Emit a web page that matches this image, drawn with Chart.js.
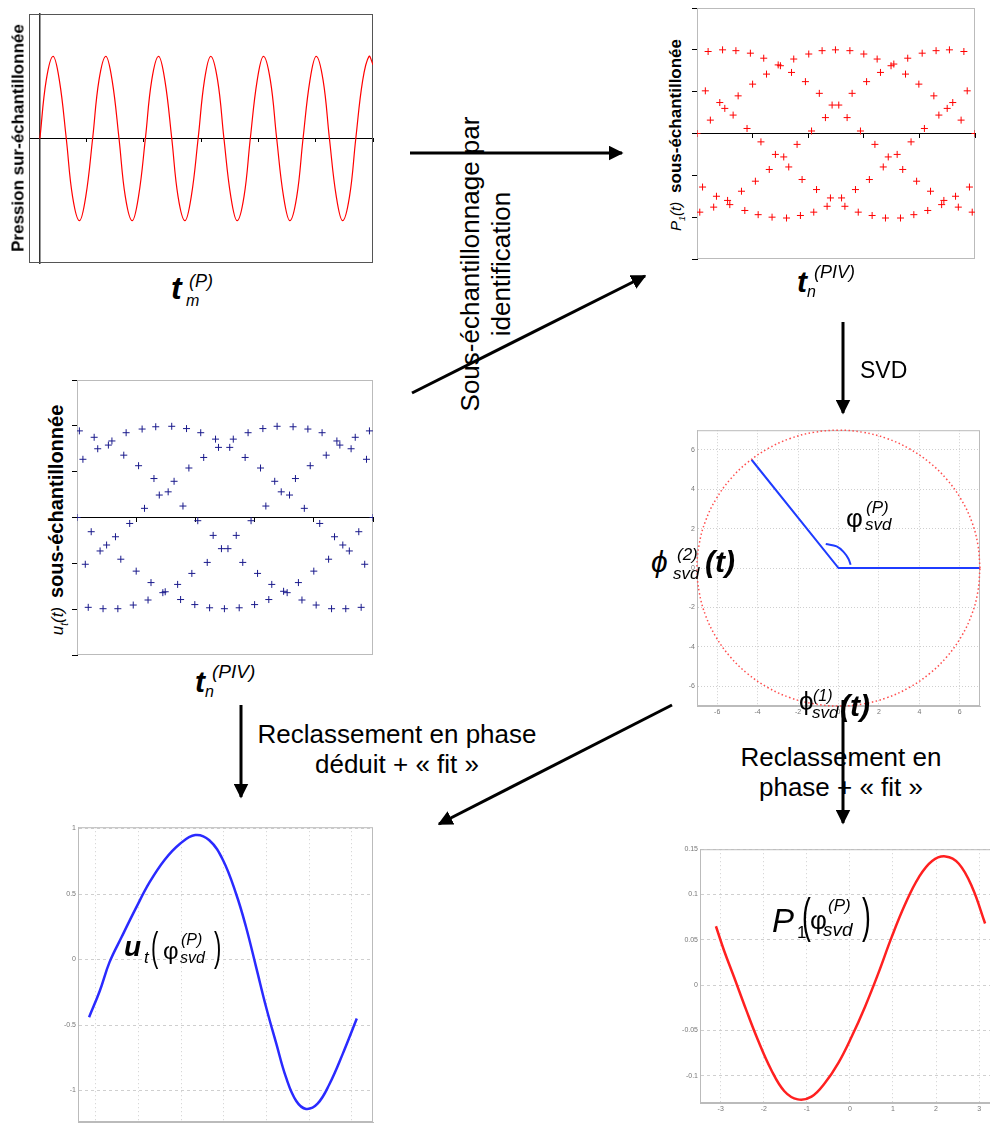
<!DOCTYPE html>
<html>
<head>
<meta charset="utf-8">
<title>Sous-échantillonnage et SVD</title>
<script src="https://cdn.jsdelivr.net/npm/chart.js@4.4.1/dist/chart.umd.min.js"></script>
<style>
  html, body { margin: 0; padding: 0; }
  body { width: 990px; height: 1124px; overflow: hidden; position: relative; background: #fff;
         font-family: "Liberation Sans", Arial, "DejaVu Sans", sans-serif; color: #000; }
  canvas { position: absolute; }
  svg.arrows { position: absolute; left: 0; top: 0; }
  .t { position: absolute; line-height: 1; white-space: nowrap; }
  .vt { position: absolute; white-space: nowrap; line-height: 1; transform: translate(-50%, -50%) rotate(-90deg); }
  .i { font-style: italic; }
  .bi { font-style: italic; font-weight: bold; }
  .par { transform: scaleX(0.55); transform-origin: left top; }
</style>
</head>
<body>

<canvas id="pression" width="356" height="261" style="left:23px;top:8px"></canvas>
<canvas id="p1Sub" width="290" height="263" style="left:691px;top:2px"></canvas>
<canvas id="utSub" width="308" height="287" style="left:71px;top:374px"></canvas>
<canvas id="svd" width="303" height="296" style="left:681px;top:424px"></canvas>
<canvas id="utFit" width="321" height="315" style="left:56px;top:821px"></canvas>
<canvas id="p1Fit" width="320" height="274" style="left:676px;top:843px"></canvas>

<!-- axis titles -->
<div class="vt" style="left:18px;top:138px;font-size:17px;font-weight:bold">Pression sur-échantillonnée</div>
<div class="vt" style="left:677px;top:135px"><span class="i" style="font-size:15px">P<sub style="font-size:9px">1</sub>(t)</span>&nbsp; <b style="font-size:17px">sous-échantillonée</b></div>
<div class="vt" style="left:58px;top:520px"><span class="i" style="font-size:17px">u<sub style="font-size:10px">t</sub>(t)</span>&nbsp; <b style="font-size:20px">sous-échantillonnée</b></div>

<!-- t_m^(P) -->
<div class="t bi" style="left:171px;top:272px;font-size:32px">t</div>
<div class="t i" style="left:189px;top:272px;font-size:18px">(P)</div>
<div class="t i" style="left:186px;top:293px;font-size:16px">m</div>

<!-- t_n^(PIV) right -->
<div class="t bi" style="left:797px;top:267px;font-size:30px">t</div>
<div class="t i" style="left:814px;top:263px;font-size:18px">(PIV)</div>
<div class="t i" style="left:807px;top:284px;font-size:16px">n</div>

<!-- t_n^(PIV) left -->
<div class="t bi" style="left:195px;top:667px;font-size:30px">t</div>
<div class="t i" style="left:212px;top:662px;font-size:19px">(PIV)</div>
<div class="t i" style="left:205px;top:684px;font-size:16px">n</div>

<!-- flow texts -->
<div class="vt" style="left:486px;top:264px;font-size:26px;line-height:31px;text-align:center">Sous-échantillonnage par<br>identification</div>
<div class="t" style="left:860px;top:359px;font-size:23px">SVD</div>
<div class="t" style="left:397px;top:719px;font-size:26px;transform:translateX(-50%);text-align:center;line-height:30px">Reclassement en phase<br>déduit + « fit »</div>
<div class="t" style="left:841px;top:742px;font-size:26px;transform:translateX(-50%);text-align:center;line-height:30px">Reclassement en<br>phase + « fit »</div>

<!-- labels in SVD plot -->
<div class="t" style="left:846px;top:505px;font-size:26px">φ</div>
<div class="t i" style="left:866px;top:499px;font-size:17px">(P)</div>
<div class="t i" style="left:865px;top:516px;font-size:17px">svd</div>

<div class="t i" style="left:651px;top:547px;font-size:30px">ϕ</div>
<div class="t i" style="left:677px;top:546px;font-size:17px">(2)</div>
<div class="t i" style="left:673px;top:565px;font-size:17px">svd</div>
<div class="t bi" style="left:705px;top:547px;font-size:30px">(t)</div>

<div class="t" style="left:799px;top:688px;font-size:26px">ϕ</div>
<div class="t i" style="left:813px;top:688px;font-size:16px">(1)</div>
<div class="t i" style="left:812px;top:704px;font-size:17px">svd</div>
<div class="t bi" style="left:840px;top:691px;font-size:30px">(t)</div>

<!-- u_t(phi) label -->
<div class="t bi" style="left:124px;top:933px;font-size:28px">u</div>
<div class="t i" style="left:144px;top:949px;font-size:17px">t</div>
<div class="t par" style="left:151px;top:927px;font-size:40px">(</div>
<div class="t" style="left:163px;top:939px;font-size:24px">φ</div>
<div class="t i" style="left:181px;top:932px;font-size:16px">(P)</div>
<div class="t i" style="left:180px;top:950px;font-size:16px">svd</div>
<div class="t par" style="left:214px;top:927px;font-size:40px">)</div>

<!-- P_1(phi) label -->
<div class="t i" style="left:772px;top:904px;font-size:33px">P</div>
<div class="t" style="left:797px;top:924px;font-size:17px">1</div>
<div class="t par" style="left:802px;top:892px;font-size:48px">(</div>
<div class="t" style="left:810px;top:907px;font-size:26px">φ</div>
<div class="t i" style="left:828px;top:897px;font-size:17px">(P)</div>
<div class="t i" style="left:823px;top:920px;font-size:19px">svd</div>
<div class="t par" style="left:862px;top:892px;font-size:48px">)</div>

<svg class="arrows" width="990" height="1124">
  <defs>
    <marker id="ah" viewBox="0 0 10 10" refX="9" refY="5" markerWidth="5" markerHeight="5" orient="auto">
      <path d="M0,0 L10,5 L0,10 z" fill="#000"/>
    </marker>
  </defs>
  <g stroke="#000" stroke-width="3" marker-end="url(#ah)">
    <line x1="410" y1="153" x2="622" y2="153"/>
    <line x1="412" y1="393" x2="645" y2="276"/>
    <line x1="843" y1="322" x2="843" y2="413"/>
    <line x1="241" y1="705" x2="241" y2="797"/>
    <line x1="672" y1="705" x2="439" y2="824"/>
    <line x1="843" y1="700" x2="843" y2="823"/>
  </g>
</svg>

<script>
// ---- data ----
// over-sampled pressure (top left)
var tP = [0.19, 0.30, 0.42, 0.53, 0.65, 0.76, 0.88, 0.99, 1.11, 1.22, 1.34, 1.45, 1.57, 1.68, 1.80, 1.91,
  2.03, 2.14, 2.26, 2.37, 2.49, 2.60, 2.72, 2.83, 2.95, 3.06, 3.17, 3.29, 3.40, 3.52, 3.63, 3.75,
  3.86, 3.98, 4.09, 4.21, 4.32, 4.44, 4.55, 4.67, 4.78, 4.90, 5.01, 5.13, 5.24, 5.36, 5.47, 5.59,
  5.70, 5.82, 5.93, 6.00];
var pression = [0, 0.7, 0.99, 0.7, 0, -0.7, -0.99, -0.7, 0, 0.7, 0.99, 0.7, 0, -0.7, -0.99, -0.7,
  0, 0.7, 0.99, 0.7, 0, -0.7, -0.99, -0.7, 0, 0.7, 0.99, 0.7, 0, -0.7, -0.99, -0.7,
  0, 0.7, 0.99, 0.7, 0, -0.7, -0.99, -0.7, 0, 0.7, 0.99, 0.7, 0, -0.7, -0.99, -0.7,
  0, 0.7, 0.99, 0.89];

// sub-sampled P1 (top right)
var tPivP = [0, 0.15, 0.2, 0.24, 0.41, 0.5, 0.46, 0.65, 0.7, 0.74, 0.9, 0.96, 1.0, 1.2, 1.25, 1.46, 1.5, 1.7,
  1.74, 1.95, 2.01, 2.06, 2.2, 2.25, 2.31, 2.43, 2.55, 2.49, 2.7, 2.75, 2.79, 2.94, 3.0, 3.05, 3.24, 3.3,
  3.49, 3.54, 3.75, 3.79, 3.99, 4.05, 4.09, 4.26, 4.3, 4.35, 4.5, 4.54, 4.6, 4.75, 4.8, 4.86, 5.0,
  0.05, 0.1, 0.3, 0.35, 0.55, 0.59, 0.8, 0.86, 1.05, 1.1, 1.15, 1.3, 1.35, 1.41, 1.56, 1.61, 1.65, 1.8,
  1.86, 1.89, 2.1, 2.15, 2.34, 2.4, 2.6, 2.66, 2.85, 2.9, 3.1, 3.15, 3.2, 3.35, 3.39, 3.44, 3.6, 3.66,
  3.7, 3.85, 3.9, 3.95, 4.15, 4.2, 4.4, 4.44, 4.65, 4.7, 4.9, 4.95];
var p1Sub = [0, 1.02, 1.96, 0.32, 0.74, 0.6, 2.0, 0.44, 1.98, 0.9, 0.12, 1.92, 1.18, 1.8, 1.42, 1.64, 1.62, 1.46,
  1.78, 1.24, 1.9, 0.06, 0.96, 1.98, 0.38, 0.68, 0.68, 2.0, 0.38, 1.98, 0.96, 0.06, 1.9, 1.24, 1.78, 1.46,
  1.62, 1.66, 1.42, 1.8, 1.18, 1.92, 0.12, 0.9, 1.98, 0.44, 0.6, 2.0, 0.74, 0.32, 1.96, 1.02, 0,
  -1.88, -1.28, -1.76, -1.5, -1.6, -1.7, -1.38, -1.84, -1.14, -1.94, -0.2, -0.86, -2.0, -0.5, -0.56, -2.02, -0.8, -0.26,
  -1.96, -1.1, -1.88, -1.34, -1.74, -1.54, -1.54, -1.74, -1.34, -1.88, -1.1, -1.96, -0.26, -0.8, -2.02, -0.56, -0.5, -2.02,
  -0.86, -0.2, -1.94, -1.14, -1.84, -1.38, -1.7, -1.6, -1.5, -1.76, -1.28, -1.88];

// sub-sampled u_t (middle left)
var tPivU = [0, 0.04, 0.1, 0.29, 0.35, 0.53, 0.59, 0.79, 0.83, 1.04, 1.1, 1.14, 1.3, 1.33, 1.39, 1.54, 1.6, 1.64,
  1.79, 1.85, 1.89, 2.04, 2.09, 2.14, 2.34, 2.39, 2.58, 2.64, 2.84, 2.89, 2.94, 3.1, 3.14, 3.19, 3.34, 3.38,
  3.45, 3.59, 3.65, 3.69, 3.84, 3.9, 3.94, 4.14, 4.21, 4.39, 4.44, 4.63, 4.7, 4.89, 4.94, 5.0,
  0.14, 0.19, 0.24, 0.39, 0.44, 0.5, 0.65, 0.69, 0.74, 0.89, 0.95, 1.0, 1.2, 1.25, 1.45, 1.49, 1.7, 1.75,
  1.94, 1.99, 2.2, 2.24, 2.3, 2.44, 2.49, 2.55, 2.69, 2.74, 2.8, 3.0, 3.05, 3.24, 3.29, 3.49, 3.55, 3.74,
  3.8, 4.0, 4.04, 4.1, 4.25, 4.3, 4.35, 4.49, 4.54, 4.6, 4.76, 4.8, 4.86];
var utSub = [0, 1.89, 1.27, 1.75, 1.5, 1.58, 1.67, 1.36, 1.85, 1.13, 1.93, 0.2, 0.85, 1.98, 0.49, 0.56, 1.99, 0.79,
  0.25, 1.94, 1.08, -0.07, 1.85, 1.31, 1.71, 1.53, 1.53, 1.71, 1.31, 1.85, -0.07, 1.08, 1.94, 0.25, 0.79, 1.99,
  0.56, 0.49, 1.98, 0.85, 0.2, 1.93, 1.13, 1.85, 1.36, 1.67, 1.58, 1.5, 1.75, 1.27, 1.89, 0,
  -1.02, -1.96, -0.31, -0.73, -1.99, -0.6, -0.42, -1.99, -0.91, -0.13, -1.91, -1.17, -1.8, -1.42, -1.64, -1.62, -1.46, -1.79,
  -1.22, -1.9, -0.98, -1.97, -0.39, -0.68, -1.99, -0.68, -0.39, -1.97, -0.98, -1.9, -1.22, -1.79, -1.46, -1.61, -1.64, -1.42,
  -1.8, -1.17, -1.91, -0.13, -0.91, -1.99, -0.42, -0.6, -1.99, -0.73, -0.31, -1.96, -1.02];

// SVD plane: circle of radius 7, phase line and angle arc
var cercleX = [7.00, 6.89, 6.58, 6.06, 5.36, 4.50, 3.50, 2.39, 1.22, 0.00, -1.22, -2.39, -3.50, -4.50, -5.36, -6.06, -6.58, -6.89,
  -7.00, -6.89, -6.58, -6.06, -5.36, -4.50, -3.50, -2.39, -1.22, 0.00, 1.22, 2.39, 3.50, 4.50, 5.36, 6.06, 6.58, 6.89, 7.00];
var cercleY = [0.00, 1.22, 2.39, 3.50, 4.50, 5.36, 6.06, 6.58, 6.89, 7.00, 6.89, 6.58, 6.06, 5.36, 4.50, 3.50, 2.39, 1.22,
  0.00, -1.22, -2.39, -3.50, -4.50, -5.36, -6.06, -6.58, -6.89, -7.00, -6.89, -6.58, -6.06, -5.36, -4.50, -3.50, -2.39, -1.22, 0.00];
var phaseX = [-4.3, 0, 7];
var phaseY = [5.5, 0, 0];
var arcX = [-0.63, -0.09, 0.27, 0.49, 0.6];
var arcY = [1.22, 1.1, 0.8, 0.47, 0.17];
var svdTicks = [-6, -4, -2, 0, 2, 4, 6];

// re-ordered in phase + fit
var phiU = [-3.16, -2.91, -2.68, -2.4, -2.05, -1.74, -1.39, -1.04, -0.67, -0.34, -0.02, 0.29, 0.52, 0.76, 0.99, 1.23,
  1.46, 1.7, 1.93, 2.2, 2.48, 2.79, 3.12];
var utFit = [-0.44, -0.24, -0.02, 0.17, 0.4, 0.59, 0.76, 0.88, 0.95, 0.91, 0.76, 0.5, 0.25, -0.06, -0.36, -0.64,
  -0.9, -1.08, -1.14, -1.1, -0.95, -0.72, -0.45];
var phiP = [-3.11, -2.92, -2.69, -2.41, -2.14, -1.83, -1.52, -1.21, -0.89, -0.58, -0.27, 0.04, 0.35, 0.66, 0.97, 1.29,
  1.6, 1.91, 2.22, 2.53, 2.84, 3.14];
var p1Fit = [0.065, 0.038, 0.009, -0.027, -0.06, -0.093, -0.117, -0.126, -0.123, -0.108, -0.086, -0.057, -0.024, 0.013,
  0.053, 0.09, 0.119, 0.137, 0.142, 0.134, 0.108, 0.068];
var p1Ticks = [-0.1, -0.05, 0, 0.05, 0.1, 0.15];

// ---- helpers ----
Chart.defaults.font.family = "'Liberation Sans', Arial, sans-serif";

function pts(xs, ys) {
  return xs.map(function(x, i) { return { x: x, y: ys[i] }; });
}

// draws the box around the plot area
var framePlugin = {
  id: "frame",
  beforeDatasetsDraw: function(chart, args, opts) {
    var a = chart.chartArea;
    var ctx = chart.ctx;
    ctx.save();
    ctx.strokeStyle = opts.color || "#999";
    ctx.lineWidth = 1;
    ctx.strokeRect(a.left + 0.5, a.top + 0.5, a.right - a.left - 1, a.bottom - a.top - 1);
    ctx.restore();
  }
};

function baseOptions(pad, frameColor) {
  return {
    responsive: false,
    animation: false,
    devicePixelRatio: 1,
    events: [],
    layout: { padding: pad },
    plugins: { legend: { display: false }, tooltip: { enabled: false }, frame: { color: frameColor } }
  };
}

// axis lying on zero, no labels
function zeroAxis(min, max, step, pos, tickLen) {
  return {
    type: "linear", min: min, max: max, position: pos,
    ticks: { display: false, stepSize: step },
    grid: { display: tickLen > 0, drawOnChartArea: false, tickLength: tickLen, color: "#000" },
    border: { color: "#000", width: 1 }
  };
}

// matlab-like axis with tiny labels and dotted grid
function gridAxis(min, max, step, pos, dash, fitSize) {
  return {
    type: "linear", min: min, max: max, position: pos,
    ticks: {
      stepSize: step, includeBounds: false, font: { size: 7 }, color: "#777", padding: 2, maxRotation: 0,
      callback: function(v) { return String(Math.round(v * 100) / 100); }
    },
    grid: { color: "#cfcfcf", drawTicks: false },
    border: { color: "#bbb", dash: dash },
    afterFit: function(s) {
      if (pos === "left") { s.width = fitSize; } else { s.height = fitSize; }
    }
  };
}

function fixedTicks(axis, values) {
  axis.afterBuildTicks = function(s) {
    s.ticks = values.map(function(v) { return { value: v }; });
  };
  return axis;
}

// ---- pression sur-échantillonnée ----
var opt1 = baseOptions(6, "#555");
opt1.scales = {
  x: zeroAxis(0, 6, 1, { y: 0 }, 3),
  y: zeroAxis(-1.5, 1.5, 1, { x: 0.19 }, 0)
};
opt1.scales.y.border = { color: "#333", width: 1.5 };
new Chart(document.getElementById("pression"), {
  type: "scatter",
  data: { datasets: [{ data: pts(tP, pression), showLine: true, borderColor: "#ff0000", borderWidth: 1.2,
    pointRadius: 0, tension: 0.4 }] },
  options: opt1,
  plugins: [framePlugin]
});

// ---- P1 sous-échantillonnée ----
var opt2 = baseOptions(6, "#bbb");
opt2.scales = {
  x: zeroAxis(0, 5, 1, { y: 0 }, 4),
  y: zeroAxis(-3, 3, 1, { x: 0 }, 5)
};
new Chart(document.getElementById("p1Sub"), {
  type: "scatter",
  data: { datasets: [{ data: pts(tPivP, p1Sub), pointStyle: "cross", pointRadius: 3.5, borderColor: "#ff0000",
    borderWidth: 1 }] },
  options: opt2,
  plugins: [framePlugin]
});

// ---- u_t sous-échantillonnée ----
var opt3 = baseOptions(6, "#bbb");
opt3.scales = {
  x: zeroAxis(0, 5, 1, { y: 0 }, 4),
  y: zeroAxis(-3, 3, 1, { x: 0 }, 5)
};
new Chart(document.getElementById("utSub"), {
  type: "scatter",
  data: { datasets: [{ data: pts(tPivU, utSub), pointStyle: "cross", pointRadius: 3.5, borderColor: "#1a1a8c",
    borderWidth: 1 }] },
  options: opt3,
  plugins: [framePlugin]
});

// ---- plan SVD ----
var opt4 = baseOptions({ top: 4, right: 4, left: 0, bottom: 0 }, "#bbb");
opt4.scales = {
  x: fixedTicks(gridAxis(-7, 7, 2, "bottom", [1, 2], 14), svdTicks),
  y: fixedTicks(gridAxis(-7, 7, 2, "left", [1, 2], 16), svdTicks)
};
new Chart(document.getElementById("svd"), {
  type: "scatter",
  data: { datasets: [
    { data: pts(cercleX, cercleY), showLine: true, borderColor: "#ff4d4d", borderWidth: 1.5, borderDash: [1.5, 2.5],
      pointRadius: 0, tension: 0.4, clip: 4 },
    { data: pts(phaseX, phaseY), showLine: true, borderColor: "#1f3cff", borderWidth: 2, pointRadius: 0, clip: 4 },
    { data: pts(arcX, arcY), showLine: true, borderColor: "#1f3cff", borderWidth: 2, pointRadius: 0, tension: 0.4 }
  ] },
  options: opt4,
  plugins: [framePlugin]
});

// ---- u_t reclassé ----
var opt5 = baseOptions({ top: 6, right: 4, left: 0, bottom: 0 }, "#bbb");
opt5.scales = {
  x: gridAxis(-3.42, 3.5, 1, "bottom", [1, 3], 14),
  y: gridAxis(-1.24, 1.01, 0.5, "left", [3, 3], 22)
};
new Chart(document.getElementById("utFit"), {
  type: "scatter",
  data: { datasets: [{ data: pts(phiU, utFit), showLine: true, borderColor: "#2a2aff", borderWidth: 2.5,
    pointRadius: 0, tension: 0.4 }] },
  options: opt5,
  plugins: [framePlugin]
});

// ---- P1 reclassé ----
var opt6 = baseOptions({ top: 6, right: 4, left: 0, bottom: 0 }, "#bbb");
opt6.scales = {
  x: gridAxis(-3.48, 3.3, 1, "bottom", [1, 3], 14),
  y: fixedTicks(gridAxis(-0.13, 0.15, 0.05, "left", [3, 3], 24), p1Ticks)
};
new Chart(document.getElementById("p1Fit"), {
  type: "scatter",
  data: { datasets: [{ data: pts(phiP, p1Fit), showLine: true, borderColor: "#ff2020", borderWidth: 2.5,
    pointRadius: 0, tension: 0.4 }] },
  options: opt6,
  plugins: [framePlugin]
});
</script>
</body>
</html>
